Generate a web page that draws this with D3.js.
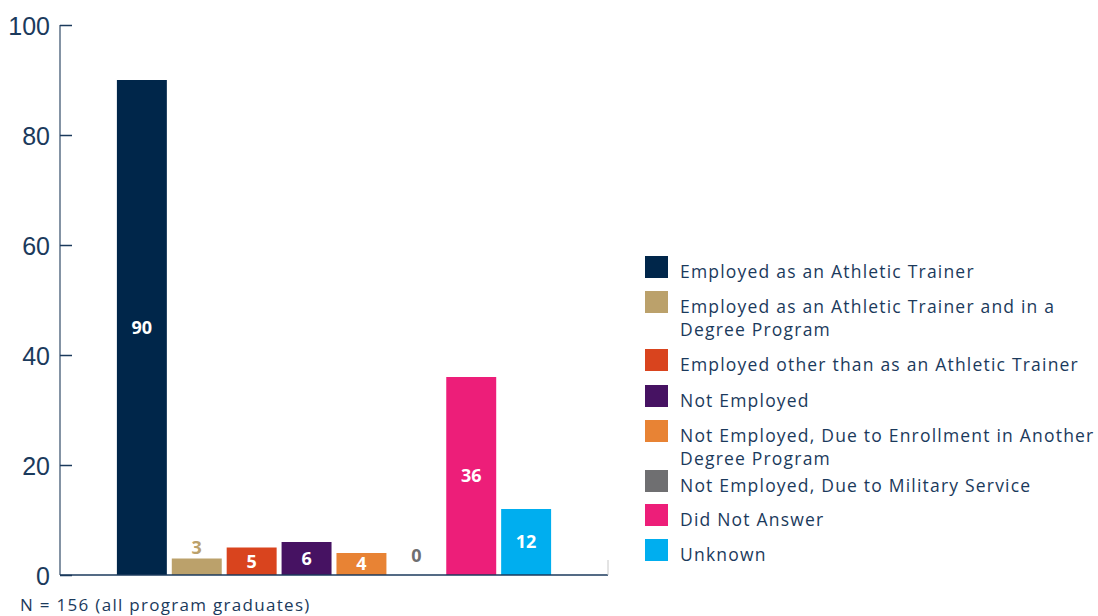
<!DOCTYPE html>
<html>
<head>
<meta charset="utf-8">
<script src="https://cdn.jsdelivr.net/npm/d3@7"></script>
<style>
  body { margin: 0; background: #fff; }
  svg { font-family: "Open Sans", sans-serif; }
</style>
</head>
<body>
<svg width="1098" height="616"></svg>
<script>
// data
var categories = [
    "Employed as an Athletic Trainer",
    "Employed as an Athletic Trainer and in a Degree Program",
    "Employed other than as an Athletic Trainer",
    "Not Employed",
    "Not Employed, Due to Enrollment in Another Degree Program",
    "Not Employed, Due to Military Service",
    "Did Not Answer",
    "Unknown"
];
var values = [90, 3, 5, 6, 4, 0, 36, 12];
var colors = ["#00264a", "#bba16b", "#d9441e", "#461262", "#e88334", "#6f6f71", "#ed1e79", "#00aeef"];
var legendLines = [
    ["Employed as an Athletic Trainer"],
    ["Employed as an Athletic Trainer and in a", "Degree Program"],
    ["Employed other than as an Athletic Trainer"],
    ["Not Employed"],
    ["Not Employed, Due to Enrollment in Another", "Degree Program"],
    ["Not Employed, Due to Military Service"],
    ["Did Not Answer"],
    ["Unknown"]
];
var yTicks = [0, 20, 40, 60, 80, 100];
var footnote = "N = 156 (all program graduates)";

// layout
var textColor = "#1b3a5c";
var plot = {left: 60, right: 608, top: 25, bottom: 575};
var legendBaselines = [278, 313, 371, 407, 442, 492, 526, 561];

var svg = d3.select("svg");

var x = d3.scaleBand()
    .domain(categories)
    .range([62, 606])
    .paddingInner(0.09)
    .paddingOuter(1.0);

var y = d3.scaleLinear()
    .domain([0, 100])
    .range([plot.bottom, plot.top]);

// y axis
var yAxis = d3.axisRight(y)
    .tickValues(yTicks)
    .tickSize(12)
    .tickFormat(d3.format("d"));

var gy = svg.append("g")
    .attr("transform", "translate(" + plot.left + ",0)")
    .call(yAxis);

gy.select(".domain")
    .attr("d", "M0," + plot.top + "V" + plot.bottom)
    .attr("stroke", "#5b6f86")
    .attr("stroke-width", 1.5);

gy.selectAll(".tick line")
    .attr("stroke", textColor)
    .attr("stroke-width", 1.5);

gy.selectAll(".tick text")
    .attr("x", -10)
    .attr("dy", "0.36em")
    .attr("text-anchor", "end")
    .attr("fill", textColor)
    .style("font-size", "25px");

// bars
svg.append("g").selectAll("rect")
    .data(values)
    .enter().append("rect")
    .attr("x", function(d, i) { return x(categories[i]); })
    .attr("y", function(d) { return y(d); })
    .attr("width", x.bandwidth())
    .attr("height", function(d) { return y(0) - y(d); })
    .attr("fill", function(d, i) { return colors[i]; });

// x axis line
svg.append("line")
    .attr("x1", plot.left).attr("x2", plot.right)
    .attr("y1", y(0)).attr("y2", y(0))
    .attr("stroke", textColor)
    .attr("stroke-width", 1.5);

svg.append("line")
    .attr("x1", plot.right).attr("x2", plot.right)
    .attr("y1", y(0) - 15).attr("y2", y(0))
    .attr("stroke", "#c8c8c8")
    .attr("stroke-width", 1);

// value labels: inside the bar when it fits, above it otherwise
function small(d) { return y(0) - y(d) < 22; }

svg.append("g").selectAll("text")
    .data(values)
    .enter().append("text")
    .attr("x", function(d, i) { return x(categories[i]) + x.bandwidth() / 2; })
    .attr("y", function(d) {
        if (small(d)) return Math.min(y(d) - 11, y(0) - 19);
        return (y(d) + y(0)) / 2;
    })
    .attr("dy", "0.36em")
    .attr("text-anchor", "middle")
    .attr("fill", function(d, i) { return small(d) ? colors[i] : "#fff"; })
    .style("font-size", "18px")
    .style("font-weight", "bold")
    .text(function(d) { return d; });

// legend
var legend = svg.append("g").selectAll("g")
    .data(categories)
    .enter().append("g");

legend.append("rect")
    .attr("x", 645)
    .attr("y", function(d, i) { return legendBaselines[i] - 22; })
    .attr("width", 23)
    .attr("height", 22)
    .attr("fill", function(d, i) { return colors[i]; });

legend.append("text")
    .attr("x", 680)
    .attr("y", function(d, i) { return legendBaselines[i]; })
    .attr("fill", textColor)
    .style("font-size", "17.5px")
    .style("letter-spacing", "1.2px")
    .selectAll("tspan")
    .data(function(d, i) { return legendLines[i]; })
    .enter().append("tspan")
    .attr("x", 680)
    .attr("dy", function(d, j) { return j === 0 ? 0 : 23; })
    .text(function(d) { return d; });

// footnote
svg.append("text")
    .attr("x", 20)
    .attr("y", 611)
    .attr("fill", textColor)
    .style("font-size", "17px")
    .style("letter-spacing", "1.3px")
    .text(footnote);
</script>
</body>
</html>
